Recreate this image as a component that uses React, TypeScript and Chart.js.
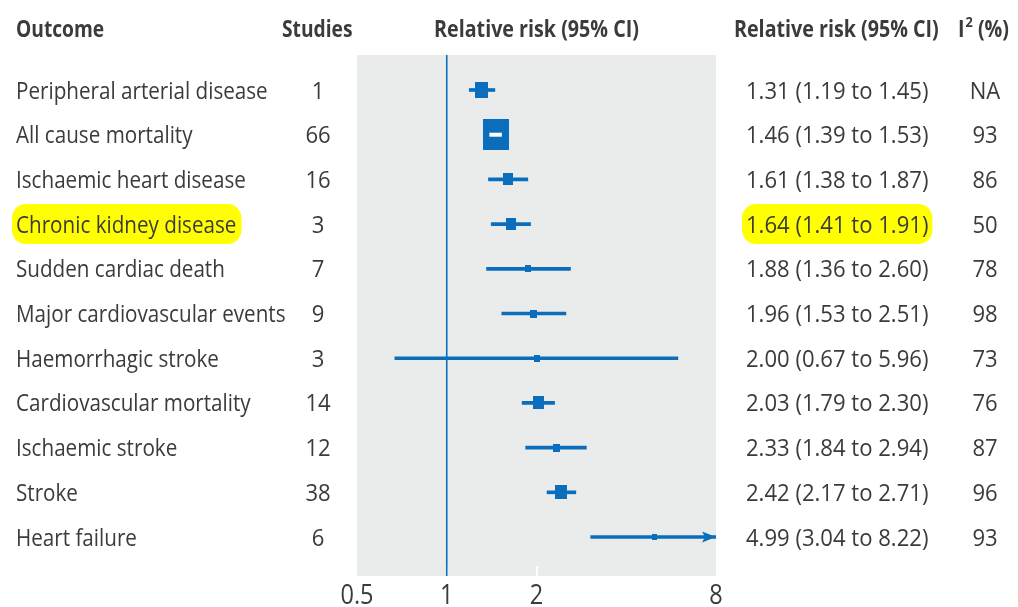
import React, { useEffect, useRef } from "react";
import { Chart, registerables } from "chart.js";

Chart.register(...registerables);

// ---- data ----
const outcomes = [
  "Peripheral arterial disease",
  "All cause mortality",
  "Ischaemic heart disease",
  "Chronic kidney disease",
  "Sudden cardiac death",
  "Major cardiovascular events",
  "Haemorrhagic stroke",
  "Cardiovascular mortality",
  "Ischaemic stroke",
  "Stroke",
  "Heart failure",
];
const studies = [1, 66, 16, 3, 7, 9, 3, 14, 12, 38, 6];
const relativeRisk = [1.31, 1.46, 1.61, 1.64, 1.88, 1.96, 2.0, 2.03, 2.33, 2.42, 4.99];
const lowerCI = [1.19, 1.39, 1.38, 1.41, 1.36, 1.53, 0.67, 1.79, 1.84, 2.17, 3.04];
const upperCI = [1.45, 1.53, 1.87, 1.91, 2.6, 2.51, 5.96, 2.3, 2.94, 2.71, 8.22];
const iSquared = ["NA", "93", "86", "50", "78", "98", "73", "76", "87", "96", "93"];
// relative weight of each pooled estimate (box area)
const weights = [25, 100, 15, 15, 5.3, 7, 5.3, 18, 7, 21, 3.7];
const highlightedOutcomes = ["Chronic kidney disease"];
const xTicks = [0.5, 1, 2, 8];

// ---- style ----
const X_MIN = 0.5;
const X_MAX = 8;
const BLUE = "#0a6ebc";
const PANEL = "#eaeceb";
const TEXT = "#3b3b3b";
const FONT = '"Open Sans", "Noto Sans", sans-serif';
const ROW_SIZE = 24;
const MAX_BOX = 26;

function makeBox(weight: number): HTMLCanvasElement {
  const w = Math.max(5, Math.round(MAX_BOX * Math.sqrt(weight / 100)));
  const h = Math.round(w * 1.2);
  const c = document.createElement("canvas");
  c.width = w;
  c.height = h;
  const cx = c.getContext("2d")!;
  cx.fillStyle = BLUE;
  cx.fillRect(0, 0, w, h);
  return c;
}

function drawText(
  ctx: CanvasRenderingContext2D,
  text: string,
  x: number,
  y: number,
  align: "left" | "center" | "right",
  font: string,
  sx: number
): number {
  ctx.font = font;
  const w = ctx.measureText(text).width * sx;
  const left = align === "left" ? x : align === "center" ? x - w / 2 : x - w;
  ctx.save();
  ctx.translate(left, y);
  ctx.scale(sx, 1);
  ctx.textAlign = "left";
  ctx.textBaseline = "alphabetic";
  ctx.fillText(text, 0, 0);
  ctx.restore();
  return w;
}

function roundRect(ctx: CanvasRenderingContext2D, x: number, y: number, w: number, h: number, r: number) {
  ctx.beginPath();
  ctx.moveTo(x + r, y);
  ctx.lineTo(x + w - r, y);
  ctx.arcTo(x + w, y, x + w, y + r, r);
  ctx.lineTo(x + w, y + h - r);
  ctx.arcTo(x + w, y + h, x + w - r, y + h, r);
  ctx.lineTo(x + r, y + h);
  ctx.arcTo(x, y + h, x, y + h - r, r);
  ctx.lineTo(x, y + r);
  ctx.arcTo(x, y, x + r, y, r);
  ctx.closePath();
}

const ciLabel = (i: number) =>
  `${relativeRisk[i].toFixed(2)} (${lowerCI[i].toFixed(2)} to ${upperCI[i].toFixed(2)})`;

const forestPlugin = {
  id: "forest",
  beforeDatasetsDraw(chart: any) {
    const { ctx, chartArea: a, scales } = chart;
    const xs = scales.x;
    ctx.save();
    ctx.fillStyle = PANEL;
    ctx.fillRect(a.left, a.top, a.right - a.left, a.bottom - a.top);
    // small white tick marks at the interior ticks
    ctx.fillStyle = "#ffffff";
    xTicks.forEach((t) => {
      if (t > X_MIN && t < X_MAX) {
        const px = Math.round(xs.getPixelForValue(t));
        ctx.fillRect(px - 1, a.bottom - 10, 2, 10);
      }
    });
    // line of no effect
    const x1 = xs.getPixelForValue(1);
    ctx.strokeStyle = BLUE;
    ctx.lineWidth = 1.6;
    ctx.beginPath();
    ctx.moveTo(x1, a.top);
    ctx.lineTo(x1, a.bottom);
    ctx.stroke();
    ctx.restore();
  },
  afterDatasetsDraw(chart: any) {
    const { ctx, scales } = chart;
    const xs = scales.x;
    const ys = scales.y;
    const boxMeta = chart.getDatasetMeta(1);
    ctx.save();
    relativeRisk.forEach((v, i) => {
      const y = ys.getPixelForValue(i);
      const el = boxMeta.data[i];
      const box = el?.options?.pointStyle as HTMLCanvasElement | undefined;
      const half = box ? box.width / 2 : 0;
      const cx = xs.getPixelForValue(v);
      const lo = xs.getPixelForValue(lowerCI[i]);
      const hi = xs.getPixelForValue(Math.min(upperCI[i], X_MAX));
      // interval hidden by its box: draw it in white on top
      if (lo > cx - half && hi < cx + half) {
        ctx.fillStyle = "#ffffff";
        ctx.fillRect(lo, y - 2, hi - lo, 4);
      }
      // interval running beyond the axis: arrow head
      if (upperCI[i] > X_MAX) {
        const tip = xs.getPixelForValue(X_MAX);
        ctx.fillStyle = BLUE;
        ctx.beginPath();
        ctx.moveTo(tip, y);
        ctx.lineTo(tip - 14, y - 5.5);
        ctx.lineTo(tip - 11, y);
        ctx.lineTo(tip - 14, y + 5.5);
        ctx.closePath();
        ctx.fill();
      }
    });
    ctx.restore();
  },
  afterDraw(chart: any) {
    const { ctx, scales } = chart;
    const xs = scales.x;
    const ys = scales.y;
    const rowFont = `400 ${ROW_SIZE}px ${FONT}`;
    const headFont = `700 ${ROW_SIZE}px ${FONT}`;
    const capHalf = ROW_SIZE * 0.357;
    ctx.save();
    ctx.fillStyle = TEXT;

    // column headers
    const hy = 28 + capHalf;
    drawText(ctx, "Outcome", 16, hy, "left", headFont, 0.8);
    drawText(ctx, "Studies", 282, hy, "left", headFont, 0.8);
    drawText(ctx, "Relative risk (95% CI)", (chart.chartArea.left + chart.chartArea.right) / 2, hy, "center", headFont, 0.82);
    drawText(ctx, "Relative risk (95% CI)", 734, hy, "left", headFont, 0.82);
    const iw = drawText(ctx, "I", 958, hy, "left", headFont, 0.82);
    const sw = drawText(ctx, "2", 958 + iw + 1, hy - 10, "left", `700 15px ${FONT}`, 0.85);
    drawText(ctx, " (%)", 958 + iw + sw + 1, hy, "left", headFont, 0.82);

    // rows
    outcomes.forEach((name, i) => {
      const y = ys.getPixelForValue(i);
      const by = y + capHalf;
      const label = ciLabel(i);
      if (highlightedOutcomes.includes(name)) {
        ctx.font = rowFont;
        const nw = ctx.measureText(name).width * 0.86;
        const cw = ctx.measureText(label).width * 0.92;
        ctx.fillStyle = "#ffff00";
        roundRect(ctx, 12, y - 20, nw + 9, 40, 14);
        ctx.fill();
        roundRect(ctx, 742, y - 20, cw + 8, 40, 14);
        ctx.fill();
      }
      ctx.fillStyle = TEXT;
      drawText(ctx, name, 16, by, "left", rowFont, 0.86);
      drawText(ctx, String(studies[i]), 318, by, "center", rowFont, 0.92);
      drawText(ctx, label, 746, by, "left", rowFont, 0.92);
      drawText(ctx, iSquared[i], 985, by, "center", rowFont, 0.92);
    });

    // axis tick labels
    xTicks.forEach((t) => {
      drawText(ctx, String(t), xs.getPixelForValue(t), 604, "center", `400 28px ${FONT}`, 0.84);
    });
    ctx.restore();
  },
};

export default function App() {
  const ref = useRef<HTMLCanvasElement>(null);

  useEffect(() => {
    document.body.style.margin = "0";
    const canvas = ref.current!;
    const boxes = weights.map(makeBox);
    const chart = new Chart(canvas, {
      type: "scatter",
      data: {
        datasets: [
          {
            type: "bar",
            indexAxis: "y",
            data: lowerCI.map((lo, i) => ({ x: [lo, Math.min(upperCI[i], X_MAX)], y: i })),
            backgroundColor: BLUE,
            borderWidth: 0,
            barThickness: 3,
            order: 2,
          } as any,
          {
            type: "scatter",
            data: relativeRisk.map((v, i) => ({ x: v, y: i })),
            pointStyle: boxes as any,
            pointRadius: 4,
            order: 1,
          } as any,
        ],
      },
      options: {
        responsive: false,
        animation: false,
        events: [],
        layout: { padding: { left: 357, right: 302, top: 55, bottom: 31 } },
        scales: {
          x: { type: "logarithmic", min: X_MIN, max: X_MAX, offset: false, display: false },
          y: { type: "linear", min: -0.783, max: 10.872, reverse: true, offset: false, display: false },
        },
        plugins: { legend: { display: false }, tooltip: { enabled: false } },
      },
      plugins: [forestPlugin],
    });
    return () => chart.destroy();
  }, []);

  return (
    <div style={{ position: "absolute", left: 0, top: 0, width: 1018, height: 607, background: "#ffffff" }}>
      <canvas ref={ref} width={1018} height={607} style={{ display: "block" }} />
    </div>
  );
}
